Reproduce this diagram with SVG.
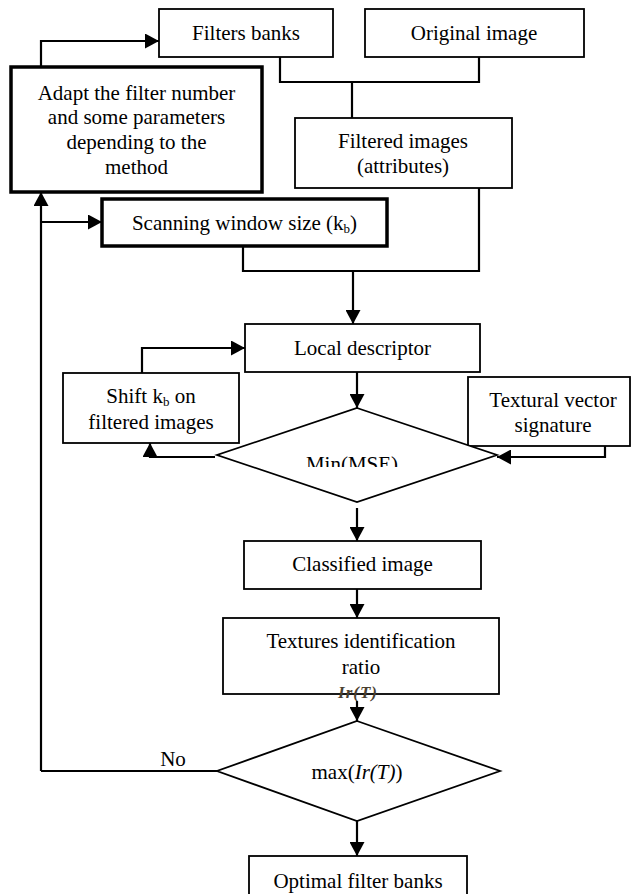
<svg xmlns="http://www.w3.org/2000/svg" width="634" height="894" viewBox="0 0 634 894">
<defs>
<marker id="ah" markerUnits="userSpaceOnUse" markerWidth="15" markerHeight="15" refX="14" refY="7.5" orient="auto">
<path d="M0,0 L14,7.5 L0,15 z" fill="#000"/>
</marker>
<clipPath id="clipMin"><rect x="0" y="0" width="634" height="467"/></clipPath>
</defs>
<style>
.box{fill:#fff;stroke:#000;stroke-width:1.8}
.thick{fill:#fff;stroke:#000;stroke-width:3.5}
.dia{fill:#fff;stroke:#000;stroke-width:1.8}
.c{fill:none;stroke:#000;stroke-width:2.2}
.a{fill:none;stroke:#000;stroke-width:2.2;marker-end:url(#ah)}
text{font-family:"Liberation Serif","Times New Roman",serif;font-size:21px;fill:#000;text-anchor:middle}
.sub{font-size:13px}
</style>
<rect width="634" height="894" fill="#fff"/>
<g id="connectors">
<polyline class="c" points="280,57 280,82 479,82 479,57"/>
<line class="c" x1="352" y1="82" x2="352" y2="118"/>
<polyline class="a" points="41,67 41,41 159,41"/>
<polyline class="c" points="243,246 243,271 479,271 479,188"/>
<line class="a" x1="353" y1="271" x2="353" y2="324"/>
<polyline class="a" points="41,771 41,192"/>
<line class="a" x1="41" y1="222" x2="102" y2="222"/>
<polyline class="a" points="142,373 142,348 245,348"/>
<line class="a" x1="357" y1="372" x2="357" y2="408"/>
<polyline class="a" points="215,457 150,457 150,443"/>
<polyline class="a" points="605,443 605,457 497,457"/>
<line class="a" x1="357" y1="508" x2="357" y2="541"/>
<line class="a" x1="357" y1="589" x2="357" y2="618"/>
<line class="a" x1="357" y1="701" x2="357" y2="721"/>
<line class="c" x1="217" y1="771" x2="41" y2="771"/>
<line class="a" x1="357" y1="821" x2="357" y2="856"/>
<text x="173" y="766">No</text>
</g>
<g id="filters-banks">
<rect class="box" x="159" y="9" width="174" height="48"/>
<text x="246" y="40">Filters banks</text>
</g>
<g id="original-image">
<rect class="box" x="365" y="9" width="219" height="48"/>
<text x="474" y="40">Original image</text>
</g>
<g id="adapt">
<rect class="thick" x="11" y="67" width="251" height="125"/>
<text x="136.5" y="100">Adapt the filter number</text>
<text x="136.5" y="124">and some parameters</text>
<text x="136.5" y="149">depending to the</text>
<text x="136.5" y="174">method</text>
</g>
<g id="filtered-images">
<rect class="box" x="295" y="118" width="217" height="70"/>
<text x="403" y="148">Filtered images</text>
<text x="403" y="173">(attributes)</text>
</g>
<g id="scanning-window">
<rect class="thick" x="102" y="199" width="285" height="47"/>
<text x="244.5" y="230">Scanning window size (k<tspan class="sub" dy="3">b</tspan><tspan dy="-3">)</tspan></text>
</g>
<g id="local-descriptor">
<rect class="box" x="245" y="324" width="235" height="48"/>
<text x="362.5" y="355">Local descriptor</text>
</g>
<g id="shift">
<rect class="box" x="63" y="373" width="176" height="70"/>
<text x="151" y="403">Shift  k<tspan class="sub" dy="3">b</tspan><tspan dy="-3"> on</tspan></text>
<text x="151" y="429">filtered images</text>
</g>
<g id="textural-vector">
<rect class="box" x="468" y="377" width="162" height="69"/>
<text x="553" y="407">Textural vector</text>
<text x="553" y="432">signature</text>
</g>
<g id="min-mse">
<polygon class="dia" points="357,408 497,455 357,502 217,455"/>
<text x="352" y="471" clip-path="url(#clipMin)">Min(MSE)</text>
</g>
<g id="classified-image">
<rect class="box" x="244" y="541" width="237" height="48"/>
<text x="362.5" y="571">Classified image</text>
</g>
<g id="textures-ratio">
<rect class="box" x="223" y="618" width="276" height="76"/>
<text x="361" y="648">Textures identification</text>
<text x="361" y="674">ratio</text>
<text x="358" y="698" style="font-size:17px;font-style:italic;font-weight:bold;fill:#4a4030;letter-spacing:1px">Ir(T)</text>
</g>
<g id="max-ir">
<polygon class="dia" points="357,721 500,771 357,821 217,771"/>
<text x="357" y="779">max(<tspan font-style="italic">Ir(T)</tspan>)</text>
</g>
<g id="optimal-filter-banks">
<rect class="box" x="249" y="856" width="218" height="50"/>
<text x="358" y="888">Optimal filter banks</text>
</g>
</svg>
